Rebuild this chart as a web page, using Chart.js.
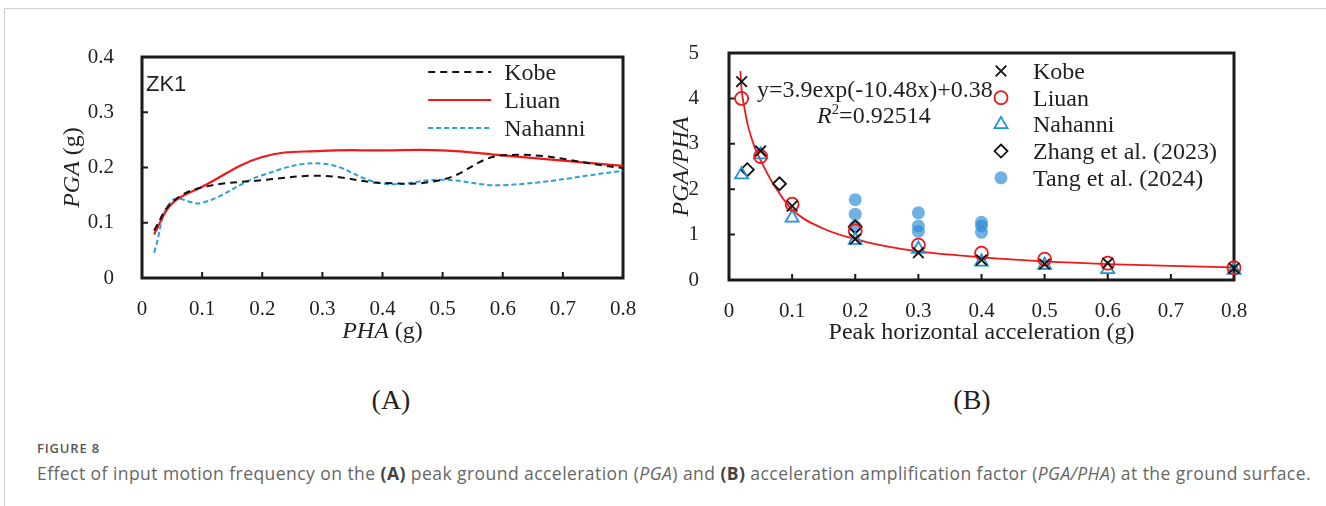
<!DOCTYPE html>
<html>
<head>
<meta charset="utf-8">
<script src="https://cdn.jsdelivr.net/npm/chart.js@4.4.0/dist/chart.umd.min.js"></script>
<style>
  body { margin: 0; background: #fff; width: 1326px; height: 506px; position: relative; overflow: hidden; }
  .rule-top { position: absolute; left: 4px; top: 8px; right: 0; border-top: 1px solid #cfcfcf; }
  .rule-left { position: absolute; left: 4px; top: 8px; bottom: 0; border-left: 1px solid #cfcfcf; }
  #wrapA { position: absolute; left: 0; top: 0; width: 650px; height: 360px; }
  #wrapB { position: absolute; left: 650px; top: 0; width: 676px; height: 360px; }
  .panel { position: absolute; top: 384px; font: 28px 'Liberation Serif', serif; color: #231f20; transform: translateX(-50%); }
  .fig { position: absolute; left: 37px; top: 439px; font: 600 13px 'Open Sans', sans-serif; color: #555; white-space: nowrap; }
  .cap { position: absolute; left: 37px; top: 461px; font: 17.5px 'Open Sans', sans-serif; color: #666; white-space: nowrap; }
  .cap b { color: #444; }
</style>
</head>
<body>
<div class="rule-top"></div>
<div class="rule-left"></div>
<div id="wrapA"><canvas id="chartA" width="650" height="360"></canvas></div>
<div id="wrapB"><canvas id="chartB" width="676" height="360"></canvas></div>
<div class="panel" style="left:391px">(A)</div>
<div class="panel" style="left:972px">(B)</div>
<div class="fig" id="fig">FIGURE 8</div>
<div class="cap" id="cap">Effect of input motion frequency on the <b>(A)</b> peak ground acceleration (<i>PGA</i>) and <b>(B)</b> acceleration amplification factor (<i>PGA/PHA</i>) at the ground surface.</div>

<script>
// panel A - PGA vs PHA
const phaA = [0.02, 0.05, 0.1, 0.2, 0.3, 0.4, 0.5, 0.6, 0.8];
const kobeA = [0.086, 0.137, 0.164, 0.177, 0.185, 0.172, 0.178, 0.222, 0.199];
const liuanA = [0.079, 0.135, 0.165, 0.219, 0.230, 0.231, 0.231, 0.222, 0.203];
const nahanniA = [0.046, 0.140, 0.136, 0.186, 0.207, 0.171, 0.178, 0.168, 0.194];
const xTicksA = [0, 0.1, 0.2, 0.3, 0.4, 0.5, 0.6, 0.7, 0.8];
const yTicksA = [0, 0.1, 0.2, 0.3, 0.4];

// panel B - PGA/PHA vs PHA
const phaB = [0.02, 0.05, 0.1, 0.2, 0.3, 0.4, 0.5, 0.6, 0.8];
const kobeB = [4.37, 2.84, 1.63, 0.90, 0.60, 0.44, 0.35, 0.37, 0.26];
const liuanB = [4.00, 2.72, 1.67, 1.08, 0.77, 0.59, 0.46, 0.37, 0.27];
const nahanniB = [2.32, 2.76, 1.37, 0.88, 0.68, 0.40, 0.33, 0.235, 0.22];
const zhangX = [0.029, 0.08, 0.2];
const zhangY = [2.43, 2.12, 1.17];
const tangX = [0.2, 0.2, 0.2, 0.3, 0.3, 0.3, 0.4, 0.4, 0.4];
const tangY = [1.77, 1.45, 1.18, 1.48, 1.19, 1.07, 1.27, 1.19, 1.05];
const fitX = [0.018, 0.02, 0.025, 0.03, 0.04, 0.05, 0.07, 0.1, 0.15, 0.2, 0.25, 0.3, 0.4, 0.5, 0.6, 0.7, 0.8];
const fitY = [4.60, 4.20, 3.75, 3.40, 2.95, 2.64, 2.12, 1.55, 1.13, 0.90, 0.74, 0.63, 0.50, 0.41, 0.35, 0.31, 0.28];
const xTicksB = [0, 0.1, 0.2, 0.3, 0.4, 0.5, 0.6, 0.7, 0.8];
const yTicksB = [0, 1, 2, 3, 4, 5];

const INK = '#231f20';
const RED = '#f01818';
const BLUE = '#2a9fd8';
const serif = "'Liberation Serif', serif";

const pts = (xs, ys) => xs.map((x, i) => ({ x: x, y: ys[i] }));
const fmt = v => (v === 0 ? '0' : String(Math.round(v * 10) / 10));

// draws a piece of text made of several styled runs (italic, superscript)
function drawRuns(ctx, runs, x, y, size, align, rot, family) {
    family = family || serif;
    const fontOf = r => (r.it ? 'italic ' : '') + (r.sup ? size * 0.62 : size) + 'px ' + family;
    ctx.save();
    ctx.translate(x, y);
    ctx.rotate(rot || 0);
    ctx.fillStyle = INK;
    ctx.textBaseline = 'alphabetic';
    let w = 0;
    runs.forEach(r => { ctx.font = fontOf(r); w += ctx.measureText(r.t).width; });
    let cx = align === 'center' ? -w / 2 : 0;
    runs.forEach(r => {
        ctx.font = fontOf(r);
        ctx.fillText(r.t, cx, r.sup ? -size * 0.36 : 0);
        cx += ctx.measureText(r.t).width;
    });
    ctx.restore();
}

// black box round the plot plus inward ticks
const frameTicks = {
    id: 'frameTicks',
    beforeDatasetsDraw(chart) {
        const { ctx, chartArea: a, scales: { x, y } } = chart;
        ctx.save();
        ctx.strokeStyle = '#1a1a1a';
        ctx.lineWidth = 2;
        ctx.beginPath();
        x.ticks.forEach(t => {
            const px = x.getPixelForValue(t.value);
            if (px > a.left + 2 && px < a.right - 2) { ctx.moveTo(px, a.bottom); ctx.lineTo(px, a.bottom - 6); }
        });
        y.ticks.forEach(t => {
            const py = y.getPixelForValue(t.value);
            if (py > a.top + 2 && py < a.bottom - 2) { ctx.moveTo(a.left, py); ctx.lineTo(a.left + 6, py); }
        });
        ctx.stroke();
        ctx.lineWidth = 3;
        ctx.strokeRect(a.left, a.top, a.right - a.left, a.bottom - a.top);
        ctx.restore();
    }
};

// titles, annotations and the legend drawn inside the plot
const extras = {
    id: 'extras',
    afterDraw(chart, args, opts) {
        const ctx = chart.ctx;
        (opts.texts || []).forEach(t => {
            const p = t.at(chart);
            drawRuns(ctx, t.runs, p.x, p.y, t.size, t.align, t.rot, t.family);
        });
        const lg = opts.legend;
        if (!lg) return;
        const p0 = lg.at(chart);
        lg.items.forEach((it, i) => {
            const ds = chart.data.datasets[it.ds];
            const y = p0.y + i * lg.gap;
            ctx.save();
            if (lg.kind === 'line') {
                ctx.strokeStyle = ds.borderColor;
                ctx.lineWidth = ds.borderWidth;
                ctx.setLineDash(ds.borderDash || []);
                ctx.beginPath();
                ctx.moveTo(p0.x, y);
                ctx.lineTo(p0.x + lg.len, y);
                ctx.stroke();
            } else {
                ctx.strokeStyle = ds.borderColor;
                ctx.fillStyle = ds.backgroundColor;
                ctx.lineWidth = ds.borderWidth;
                Chart.helpers.drawPoint(ctx, { pointStyle: ds.pointStyle, radius: ds.pointRadius, rotation: 0, borderWidth: ds.borderWidth }, p0.x, y);
            }
            ctx.restore();
            drawRuns(ctx, [{ t: ds.label }], p0.x + lg.textDx, y + 8, lg.size, 'left');
        });
    }
};

function axis(min, max, list, fitSize, pad, isX) {
    return {
        type: 'linear',
        min: min,
        max: max,
        grid: { display: false },
        border: { display: false },
        afterBuildTicks: s => { s.ticks = list.map(v => ({ value: v })); },
        afterFit: s => { if (isX) s.height = fitSize; else s.width = fitSize; },
        ticks: {
            callback: v => fmt(v),
            font: { family: serif, size: 21 },
            color: INK,
            padding: pad,
            maxRotation: 0,
            autoSkip: false
        }
    };
}

const baseOpts = {
    responsive: false,
    animation: false,
    events: [],
    plugins: { legend: { display: false }, tooltip: { enabled: false } }
};

new Chart(document.getElementById('chartA'), {
    type: 'line',
    data: {
        datasets: [
            { label: 'Kobe', data: pts(phaA, kobeA), borderColor: '#111', borderWidth: 2, borderDash: [7, 5], tension: 0.4, pointRadius: 0, fill: false },
            { label: 'Liuan', data: pts(phaA, liuanA), borderColor: RED, borderWidth: 2.2, tension: 0.4, pointRadius: 0, fill: false },
            { label: 'Nahanni', data: pts(phaA, nahanniA), borderColor: BLUE, borderWidth: 2, borderDash: [5, 3], tension: 0.4, pointRadius: 0, fill: false }
        ]
    },
    options: Object.assign({}, baseOpts, {
        layout: { padding: { top: 57, right: 27, bottom: 0, left: 0 } },
        scales: {
            x: axis(0, 0.8, xTicksA, 82, 11, true),
            y: axis(0, 0.4, yTicksA, 142, 20, false)
        },
        plugins: Object.assign({}, baseOpts.plugins, {
            extras: {
                texts: [
                    { runs: [{ t: 'ZK1' }], size: 22, align: 'left', family: "'Liberation Sans', sans-serif",
                      at: c => ({ x: c.chartArea.left + 4, y: 91 }) },
                    { runs: [{ t: 'PHA', it: true }, { t: ' (g)' }], size: 24, align: 'center',
                      at: c => ({ x: (c.chartArea.left + c.chartArea.right) / 2, y: 338 }) },
                    { runs: [{ t: 'PGA', it: true }, { t: ' (g)' }], size: 24, align: 'center', rot: -Math.PI / 2,
                      at: c => ({ x: 79, y: (c.chartArea.top + c.chartArea.bottom) / 2 }) }
                ],
                legend: {
                    kind: 'line', len: 63, textDx: 76, gap: 28, size: 24,
                    items: [{ ds: 0 }, { ds: 1 }, { ds: 2 }],
                    at: c => ({ x: c.scales.x.getPixelForValue(0.476), y: 72 })
                }
            }
        })
    }),
    plugins: [frameTicks, extras]
});

new Chart(document.getElementById('chartB'), {
    type: 'scatter',
    data: {
        datasets: [
            { label: 'Kobe', data: pts(phaB, kobeB), pointStyle: 'crossRot', pointRadius: 7.5, borderColor: '#111', backgroundColor: 'rgba(0,0,0,0)', borderWidth: 1.8, order: 1, clip: false },
            { label: 'Liuan', data: pts(phaB, liuanB), pointStyle: 'circle', pointRadius: 6.5, borderColor: RED, backgroundColor: 'rgba(0,0,0,0)', borderWidth: 1.8, order: 2, clip: false },
            { label: 'Nahanni', data: pts(phaB, nahanniB), pointStyle: 'triangle', pointRadius: 7.5, borderColor: '#1a96d8', backgroundColor: 'rgba(0,0,0,0)', borderWidth: 1.8, order: 3, clip: false },
            { label: 'Zhang et al. (2023)', data: pts(zhangX, zhangY), pointStyle: 'rectRot', pointRadius: 6.5, borderColor: '#111', backgroundColor: 'rgba(0,0,0,0)', borderWidth: 1.8, order: 4, clip: false },
            { label: 'Tang et al. (2024)', data: pts(tangX, tangY), pointStyle: 'circle', pointRadius: 6.5, borderColor: 'rgba(0,0,0,0)', backgroundColor: 'rgba(45,140,215,0.68)', borderWidth: 0, order: 6, clip: false },
            { label: 'fit', type: 'line', data: pts(fitX, fitY), borderColor: RED, borderWidth: 1.8, pointRadius: 0, cubicInterpolationMode: 'monotone', fill: false, order: 5 }
        ]
    },
    options: Object.assign({}, baseOpts, {
        layout: { padding: { top: 53, right: 92, bottom: 0, left: 0 } },
        scales: {
            x: axis(0, 0.8, xTicksB, 80, 11, true),
            y: axis(0, 5, yTicksB, 79, 22, false)
        },
        plugins: Object.assign({}, baseOpts.plugins, {
            extras: {
                texts: [
                    { runs: [{ t: 'y=3.9exp(-10.48x)+0.38' }], size: 24, align: 'left',
                      at: c => ({ x: 107, y: 97 }) },
                    { runs: [{ t: 'R', it: true }, { t: '2', sup: true }, { t: '=0.92514' }], size: 24, align: 'left',
                      at: c => ({ x: 167, y: 123 }) },
                    { runs: [{ t: 'Peak horizontal acceleration (g)' }], size: 24, align: 'center',
                      at: c => ({ x: (c.chartArea.left + c.chartArea.right) / 2, y: 339 }) },
                    { runs: [{ t: 'PGA/PHA', it: true }], size: 24, align: 'center', rot: -Math.PI / 2,
                      at: c => ({ x: 38, y: (c.chartArea.top + c.chartArea.bottom) / 2 }) }
                ],
                legend: {
                    kind: 'point', textDx: 32, gap: 26.7, size: 24,
                    items: [{ ds: 0 }, { ds: 1 }, { ds: 2 }, { ds: 3 }, { ds: 4 }],
                    at: c => ({ x: 351, y: 71 })
                }
            }
        })
    }),
    plugins: [frameTicks, extras]
});

// stretch the caption lines to the width they have in the figure
function fitWidth(id, target) {
    const el = document.getElementById(id);
    const n = el.textContent.length;
    const w = el.getBoundingClientRect().width;
    el.style.letterSpacing = ((target - w) / n) + 'px';
}
fitWidth('fig', 63);
fitWidth('cap', 1274);
</script>
</body>
</html>
